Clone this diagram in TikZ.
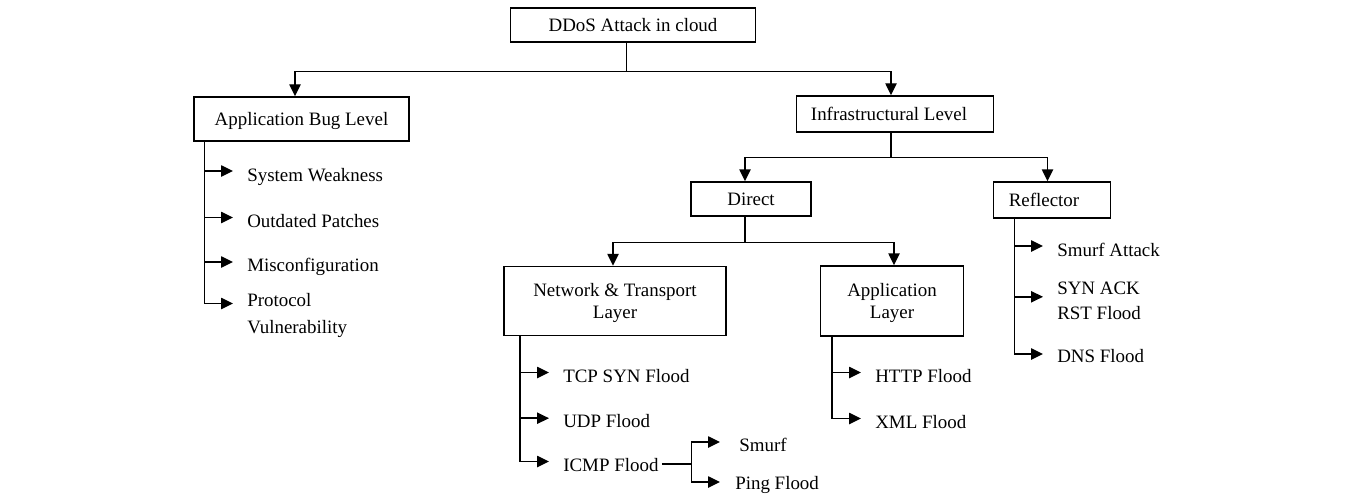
\documentclass[tikz,border=0pt]{standalone}
\usepackage{fontspec}
\setmainfont{Liberation Serif}
\usetikzlibrary{arrows.meta,calc}
\newcommand\fz{\fontsize{14.2pt}{17pt}\selectfont}
\newcommand\lowr[1]{\raisebox{-1.6pt}[\height][\depth]{#1}}
\begin{document}
\begin{tikzpicture}[x=0.75pt,y=-0.75pt,
  box/.style={draw,line width=1.1pt,inner sep=0pt,align=center,font=\fz},
  onebox/.style={box,text height=9.4pt,text depth=0pt},
  leaf/.style={inner sep=0pt,anchor=west,font=\fz,text height=9.4pt,text depth=0pt},
  mleaf/.style={inner sep=0pt,anchor=north west,align=left},
  ln/.style={line width=1.1pt},
  arr/.style={ln,-{Triangle[length=9pt,width=8.5pt]}}]
\useasboundingbox (0,0) rectangle (1352,503);

% main boxes
\node[onebox,minimum width=245*0.75pt,minimum height=34*0.75pt] (ddos) at (633,25) {DDoS Attack in cloud};
\node[onebox,minimum width=215*0.75pt,minimum height=44*0.75pt] (abl) at (301.5,119) {Application Bug Level};
\node[onebox,minimum width=197*0.75pt,minimum height=36*0.75pt] (il) at (895,114) {Infrastructural Level\hspace*{9pt}};
\node[onebox,minimum width=120*0.75pt,minimum height=34*0.75pt] (dir) at (751,199) {Direct};
\node[onebox,minimum width=117*0.75pt,minimum height=36*0.75pt] (ref) at (1052,200) {Reflector\hspace*{12pt}};
\node[box,minimum width=222*0.75pt,minimum height=69*0.75pt] (nt) at (615,301) {\lowr{Network \& Transport}\\\lowr{Layer}};
\node[box,minimum width=143*0.75pt,minimum height=70*0.75pt] (al) at (892,301) {\lowr{Application}\\\lowr{Layer}};

% tree connectors
\coordinate (j0) at ($(ddos.south)+(-6.5,29)$);
\draw[ln] (ddos.south -| j0) -- (j0);
\draw[arr] (j0) -| ($(abl.north)+(-6.5,0)$);
\draw[arr] (j0) -| ($(il.north)+(-4,0)$);

\coordinate (j1) at ($(il.south)+(-4,25)$);
\draw[ln] (il.south -| j1) -- (j1);
\draw[arr] (j1) -| ($(dir.north)+(-6,0)$);
\draw[arr] (j1) -| ($(ref.north)+(-4.5,0)$);

\coordinate (j2) at ($(dir.south)+(-6,25.5)$);
\draw[ln] (dir.south -| j2) -- (j2);
\draw[arr] (j2) -| ($(nt.north)+(-2,0)$);
\draw[arr] (j2) -| ($(al.north)+(2,0)$);

% Application Bug Level leaves
\node[leaf] (sw) at (247,175) {System Weakness};
\node[leaf] (opp) at (247,221.5) {Outdated Patches};
\node[leaf] (mc) at (247,265) {Misconfiguration};
\node[mleaf,font=\fontsize{14.2pt}{20pt}\selectfont] (pv) at (247,293.5) {Protocol\\Vulnerability};
\coordinate (b1) at ($(abl.south west)+(11,0)$);
\coordinate (t1) at ($(sw.west)+(-14,-4)$);
\coordinate (t2) at ($(opp.west)+(-14,-4)$);
\coordinate (t3) at ($(mc.west)+(-14,-3)$);
\coordinate (t4) at ($(pv.north west)+(-14,10)$);
\draw[arr] (b1 |- t1) -- (t1);
\draw[arr] (b1 |- t2) -- (t2);
\draw[arr] (b1 |- t3) -- (t3);
\draw[arr] (b1) |- (t4);

% Network & Transport leaves
\node[leaf] (tcp) at (563,376) {TCP SYN Flood};
\node[leaf] (udp) at (563,421.7) {UDP Flood};
\node[leaf] (icmp) at (563,465) {ICMP Flood};
\coordinate (b2) at ($(nt.south west)+(16.5,0)$);
\coordinate (t5) at ($(tcp.west)+(-14,-3.5)$);
\coordinate (t6) at ($(udp.west)+(-14,-3.5)$);
\coordinate (t7) at ($(icmp.west)+(-14,-3.5)$);
\draw[arr] (b2 |- t5) -- (t5);
\draw[arr] (b2 |- t6) -- (t6);
\draw[arr] (b2) |- (t7);

% ICMP sub-branches
\node[leaf] (smurf) at (739,445) {Smurf};
\node[leaf] (ping) at (735,483) {Ping Flood};
\coordinate (jic) at ($(icmp.east)+(33,-1)$);
\draw[ln] ($(icmp.east)+(3,-1)$) -- (jic);
\coordinate (t8) at ($(smurf.west)+(-19,-3)$);
\coordinate (t9) at ($(ping.west)+(-15,-1)$);
\draw[arr] (jic) |- (t8);
\draw[arr] (jic) |- (t9);

% Application Layer leaves
\node[leaf] (http) at (875,376) {HTTP Flood};
\node[leaf] (xml) at (875,422) {XML Flood};
\coordinate (b3) at ($(al.south west)+(12,0)$);
\coordinate (t10) at ($(http.west)+(-14,-3.5)$);
\coordinate (t11) at ($(xml.west)+(-14,-3.5)$);
\draw[arr] (b3 |- t10) -- (t10);
\draw[arr] (b3) |- (t11);

% Reflector leaves
\node[leaf] (sma) at (1057,250) {Smurf Attack};
\node[mleaf,font=\fontsize{14.2pt}{18.75pt}\selectfont] (syn) at (1057,281.8) {SYN ACK\\RST Flood};
\node[leaf] (dns) at (1057,356) {DNS Flood};
\coordinate (b4) at ($(ref.south west)+(21.5,0)$);
\coordinate (t12) at ($(sma.west)+(-14,-4)$);
\coordinate (t13) at ($(syn.north west)+(-14,15)$);
\coordinate (t14) at ($(dns.west)+(-14,-2)$);
\draw[arr] (b4 |- t12) -- (t12);
\draw[arr] (b4 |- t13) -- (t13);
\draw[arr] (b4) |- (t14);
\end{tikzpicture}
\end{document}
